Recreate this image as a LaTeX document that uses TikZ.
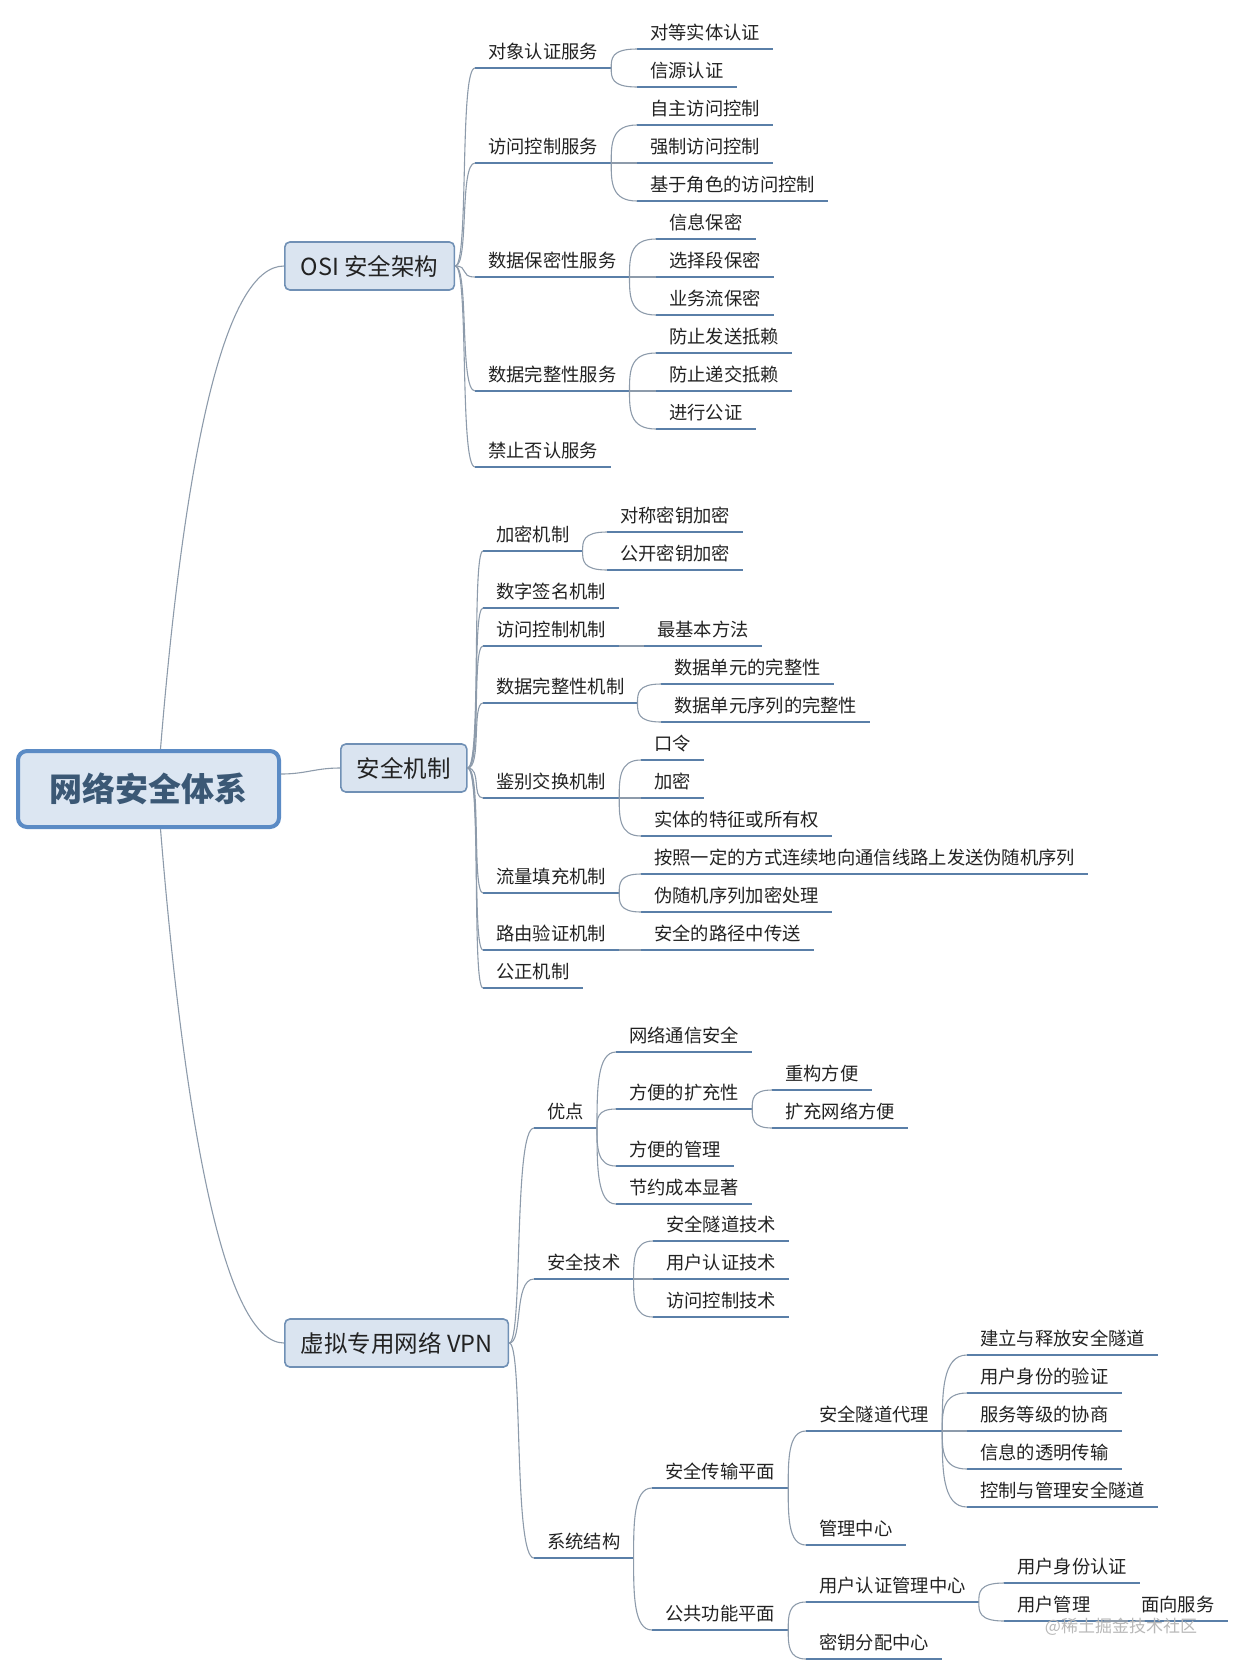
\documentclass[tikz,border=0pt]{standalone}
\usepackage{fontspec}
\setmainfont{Noto Sans CJK SC}
\usepackage{tikz}
\usepackage{xcolor}
\usetikzlibrary{calc}
\definecolor{rootfill}{HTML}{DCE6F2}
\definecolor{rootline}{HTML}{5B8BC5}
\definecolor{roottext}{HTML}{3B5875}
\definecolor{topicfill}{HTML}{DAE4F0}
\definecolor{topicline}{HTML}{7090B5}
\definecolor{ulinec}{HTML}{5A7FA8}
\definecolor{linkc}{HTML}{8D9BAB}
\definecolor{textc}{HTML}{222222}
\tikzset{
  root/.style={draw=rootline, fill=rootfill, line width=4pt, rounded corners=9pt, minimum width=261pt, minimum height=76pt, text=roottext, font=\fontsize{33}{36}\selectfont\bfseries},
  topic/.style={draw=topicline, fill=topicfill, line width=1.6pt, rounded corners=5pt, anchor=west, inner xsep=16pt, minimum height=48pt, text=textc, font=\fontsize{23.5}{26}\selectfont},
  uline/.style={draw=ulinec, line width=2.5pt},
  item/.style={anchor=south west, inner xsep=13pt, inner ysep=5pt, text height=13pt, text depth=4pt, text=textc, font=\fontsize{18.3}{20}\selectfont,
    append after command={(\tikzlastnode.south west) edge[uline] (\tikzlastnode.south east)}},
  link/.style={draw=linkc, line width=1.1pt},
}
% box to first row of items, and item to item
\newcommand{\limb}[2]{\draw[link] (#1) .. controls +(14,0) and ($(#1|-#2)+(4,0)$) .. (#2);}
\newcommand{\twig}[2]{\draw[link] (#1) .. controls ($(#1)!0.5!(#1|-#2)$) and (#1|-#2) .. (#2);}

\begin{document}
\begin{tikzpicture}[x=1pt, y=-1pt]
\useasboundingbox (0,0) rectangle (1240,1674);

\node[root] (root) at (148.5,789) {网络安全体系};
\node[topic] (osi) at (284,266) {OSI 安全架构};
\node[topic] (mech) at (340,768) {安全机制};
\node[topic] (vpn) at (284,1343) {虚拟专用网络 VPN};

\draw[link] ([xshift=12pt]root.north) .. controls (185,450) and (225,266) .. (osi.west);
\draw[link] ([yshift=15pt]root.east) .. controls +(25,0) and +(-25,0) .. (mech.west);
\draw[link] ([xshift=12pt]root.south) .. controls (185,1130) and (225,1343) .. (vpn.west);

% OSI
\node[item] (o1) at (475,68) {对象认证服务};
\node[item] (o11) at (637,49) {对等实体认证};
\node[item] (o12) at (637,87) {信源认证};
\node[item] (o2) at (475,163) {访问控制服务};
\node[item] (o21) at (637,125) {自主访问控制};
\node[item] (o22) at (637,163) {强制访问控制};
\node[item] (o23) at (637,201) {基于角色的访问控制};
\node[item] (o3) at (475,277) {数据保密性服务};
\node[item] (o31) at (656,239) {信息保密};
\node[item] (o32) at (656,277) {选择段保密};
\node[item] (o33) at (656,315) {业务流保密};
\node[item] (o4) at (475,391) {数据完整性服务};
\node[item] (o41) at (656,353) {防止发送抵赖};
\node[item] (o42) at (656,391) {防止递交抵赖};
\node[item] (o43) at (656,429) {进行公证};
\node[item] (o5) at (475,467) {禁止否认服务};

% mechanisms
\node[item] (m1) at (483,551) {加密机制};
\node[item] (m11) at (607,532) {对称密钥加密};
\node[item] (m12) at (607,570) {公开密钥加密};
\node[item] (m2) at (483,608) {数字签名机制};
\node[item] (m3) at (483,646) {访问控制机制};
\node[item] (m31) at (644,646) {最基本方法};
\node[item] (m4) at (483,703) {数据完整性机制};
\node[item] (m41) at (661,684) {数据单元的完整性};
\node[item] (m42) at (661,722) {数据单元序列的完整性};
\node[item] (m5) at (483,798) {鉴别交换机制};
\node[item] (m51) at (641,760) {口令};
\node[item] (m52) at (641,798) {加密};
\node[item] (m53) at (641,836) {实体的特征或所有权};
\node[item] (m6) at (483,893) {流量填充机制};
\node[item] (m61) at (641,874) {按照一定的方式连续地向通信线路上发送伪随机序列};
\node[item] (m62) at (641,912) {伪随机序列加密处理};
\node[item] (m7) at (483,950) {路由验证机制};
\node[item] (m71) at (641,950) {安全的路径中传送};
\node[item] (m8) at (483,988) {公正机制};

% VPN
\node[item] (v1) at (534,1128) {优点};
\node[item] (v11) at (616,1052) {网络通信安全};
\node[item] (v12) at (616,1109) {方便的扩充性};
\node[item] (v121) at (772,1090) {重构方便};
\node[item] (v122) at (772,1128) {扩充网络方便};
\node[item] (v13) at (616,1166) {方便的管理};
\node[item] (v14) at (616,1204) {节约成本显著};
\node[item] (v2) at (534,1279) {安全技术};
\node[item] (v21) at (653,1241) {安全隧道技术};
\node[item] (v22) at (653,1279) {用户认证技术};
\node[item] (v23) at (653,1317) {访问控制技术};
\node[item] (v3) at (534,1558) {系统结构};
\node[item] (v31) at (652,1488) {安全传输平面};
\node[item] (v311) at (806,1431) {安全隧道代理};
\node[item] (v3111) at (967,1355) {建立与释放安全隧道};
\node[item] (v3112) at (967,1393) {用户身份的验证};
\node[item] (v3113) at (967,1431) {服务等级的协商};
\node[item] (v3114) at (967,1469) {信息的透明传输};
\node[item] (v3115) at (967,1507) {控制与管理安全隧道};
\node[item] (v312) at (806,1545) {管理中心};
\node[item] (v32) at (652,1630) {公共功能平面};
\node[item] (v321) at (806,1602) {用户认证管理中心};
\node[item] (v3211) at (1004,1583) {用户身份认证};
\node[item] (v3212) at (1004,1621) {用户管理};
\node[item] (v32121) at (1128,1621) {面向服务};
\node[item] (v322) at (806,1659) {密钥分配中心};

\node[text=black!28, font=\fontsize{17}{19}\selectfont] (wm) at (1121,1627) {@稀土掘金技术社区};

\foreach \c in {o1,o2,o3,o4,o5} \limb{osi.east}{\c.south west};
\foreach \c in {m1,m2,m3,m4,m5,m6,m7,m8} \limb{mech.east}{\c.south west};
\foreach \c in {v1,v2,v3} \limb{vpn.east}{\c.south west};

\foreach \p/\c in {o1/o11,o1/o12,o2/o21,o2/o22,o2/o23,o3/o31,o3/o32,o3/o33,o4/o41,o4/o42,o4/o43,
  m1/m11,m1/m12,m3/m31,m4/m41,m4/m42,m5/m51,m5/m52,m5/m53,m6/m61,m6/m62,m7/m71,
  v1/v11,v1/v12,v1/v13,v1/v14,v12/v121,v12/v122,v2/v21,v2/v22,v2/v23,v3/v31,v3/v32,
  v31/v311,v31/v312,v311/v3111,v311/v3112,v311/v3113,v311/v3114,v311/v3115,
  v32/v321,v32/v322,v321/v3211,v321/v3212,v3212/v32121}
  \twig{\p.south east}{\c.south west};
\end{tikzpicture}
\end{document}
